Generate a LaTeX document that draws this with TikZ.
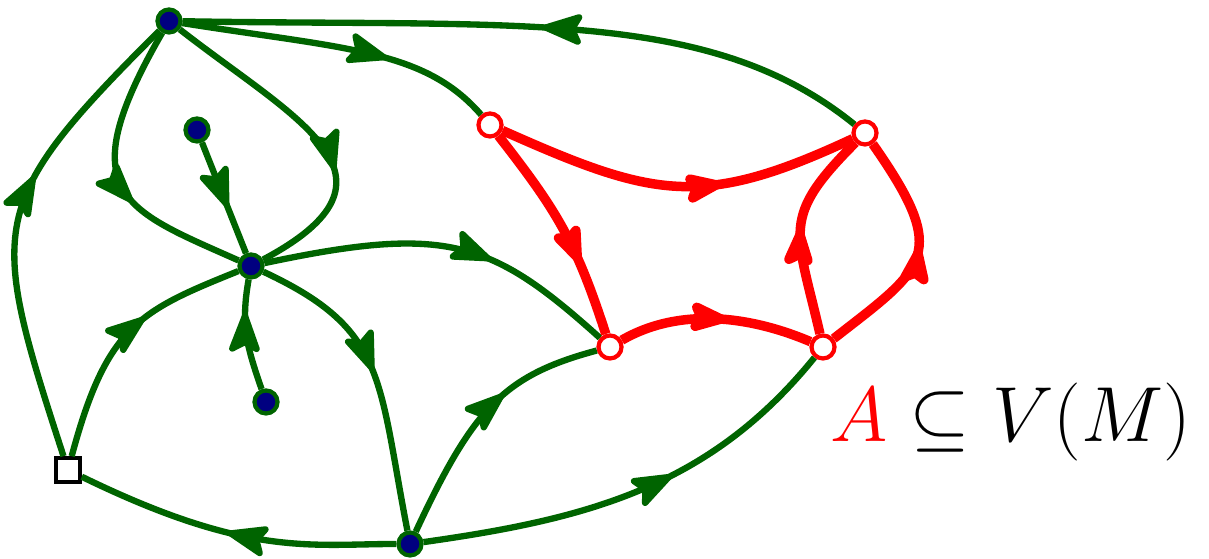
\RequirePackage{fix-cm}
\documentclass[tikz,border=0pt]{standalone}
\usetikzlibrary{arrows.meta, decorations.markings}
\definecolor{cgreen}{HTML}{006400}
\definecolor{cnavy}{HTML}{000080}
\definecolor{cred}{HTML}{FF0000}
\tikzset{
  vtx/.style={circle, draw=cgreen, fill=cnavy, line width=1.2pt, inner sep=0pt, minimum size=0.23cm},
  avtx/.style={circle, draw=cred, fill=white, line width=1.2pt, inner sep=0pt, minimum size=0.23cm},
  sqv/.style={rectangle, draw=black, fill=white, line width=1pt, inner sep=0pt, minimum size=0.24cm},
  gedge/.style={draw=cgreen, line width=1.8pt, postaction={decorate},
    decoration={markings, mark=at position #1 with {\arrow{Stealth[length=4.8mm, width=3.5mm, inset=0.9mm, round]}}}},
  gedge/.default=0.5,
  redge/.style={gedge=#1, draw=cred, line width=2.7pt},
  redge/.default=0.5,
  label/.style={anchor=base, font=\fontsize{22.2}{27}\selectfont},
}

\begin{document}
\begin{tikzpicture}[x=0.01cm, y=0.01cm]
  \useasboundingbox (0,0) rectangle (1209,559);
  % vertices of M
  \node[vtx] (top) at (169,538) {};
  \node[vtx] (inner) at (197,429) {};
  \node[vtx] (hub) at (251,293) {};
  \node[vtx] (low) at (266,157) {};
  \node[vtx] (bot) at (410,15) {};
  \node[sqv] (sq) at (68,89) {};
  % the set A
  \node[avtx] (a1) at (490,434) {};
  \node[avtx] (a2) at (865,426) {};
  \node[avtx] (a3) at (610,212) {};
  \node[avtx] (a4) at (823,212) {};

  \path[gedge=0.65] (top) .. controls +(-9:180) and +(131:100) .. (a1);
  \path[gedge=0.48] (a2) .. controls +(141:200) and +(-1:350) .. (top);
  \path[gedge=0.6] (top) .. controls +(-120:200) and +(156:140) .. (hub);
  \path[gedge=0.63] (top) .. controls +(-38:160) and +(28:190) .. (hub);
  \path[gedge=0.58] (inner) -- (hub);
  \path[gedge=0.7] (low) .. controls +(109:60) and +(-100:60) .. (hub);
  \path[gedge=0.63] (hub) .. controls +(12:200) and +(138:160) .. (a3);
  \path[gedge=0.48] (hub) .. controls +(-25:150) and +(101:170) .. (bot);
  \path[gedge=0.6] (sq) .. controls +(75:150) and +(-158:120) .. (hub);
  \path[gedge=0.6] (sq) .. controls +(108:260) and +(-135:260) .. (top);
  \path[gedge=0.52] (bot) .. controls +(180:100) and +(-26:200) .. (sq);
  \path[gedge=0.61] (bot) .. controls +(65:150) and +(-165:110) .. (a3);
  \path[gedge=0.58] (bot) .. controls +(8:180) and +(-129:180) .. (a4);

  \path[redge=0.62] (a1) .. controls +(-24:180) and +(-155:180) .. (a2);
  \path[redge=0.66] (a1) .. controls +(-52:110) and +(108:110) .. (a3);
  \path[redge=0.55] (a3) .. controls +(30:80) and +(157:80) .. (a4);
  \path[redge=0.5] (a4) .. controls +(103:120) and +(-135:120) .. (a2);
  \path[redge=0.52] (a4) .. controls +(38:130) and +(-55:150) .. (a2);

  \node[label] (lbl) at (1011,117) {$\textcolor{cred}{A} \subseteq V(M)$};
\end{tikzpicture}
\end{document}
